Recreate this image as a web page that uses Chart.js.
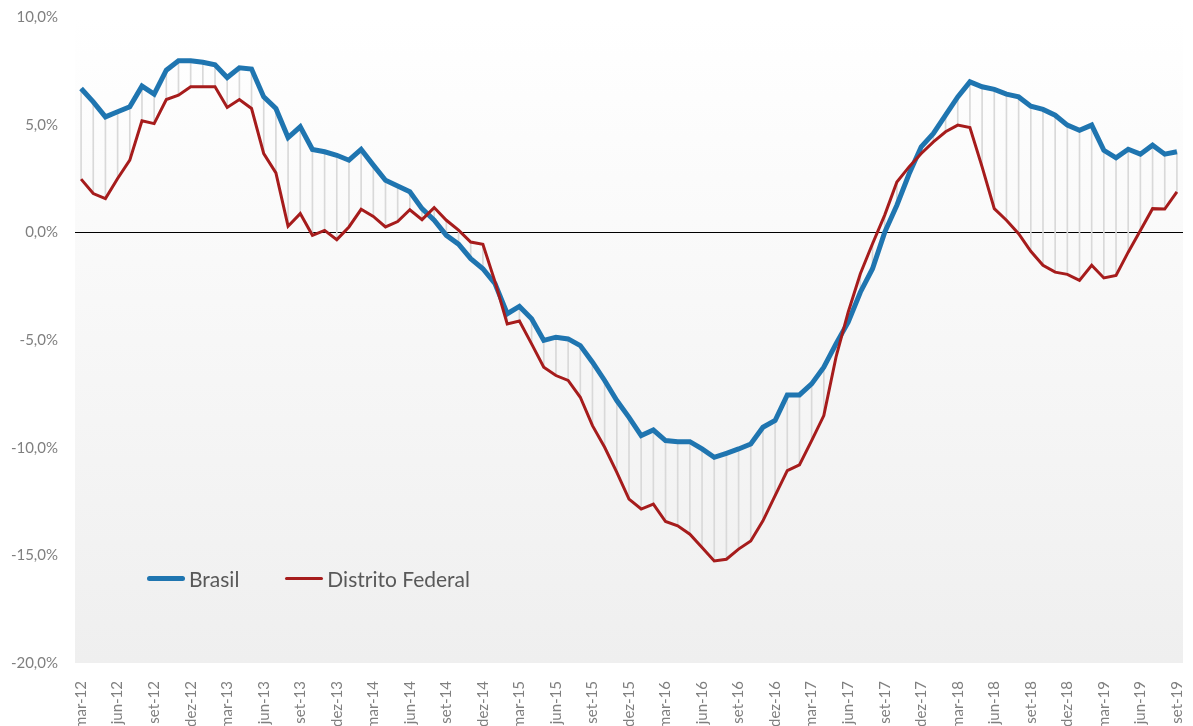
<!DOCTYPE html>
<html>
<head>
<meta charset="utf-8">
<script src="https://cdn.jsdelivr.net/npm/chart.js@4.4.0/dist/chart.umd.min.js"></script>
<style>
    body { margin: 0; background: #fff; }
    #wrap { position: relative; width: 1193px; height: 726px; }
    #legend {
        position: absolute; left: 147px; top: 566px;
        display: flex; font-family: Lato, sans-serif; font-size: 21px; color: #595959;
    }
    #legend .item { display: flex; align-items: center; margin-right: 46px; }
    #legend .swatch { width: 38px; border-radius: 3px; margin-right: 4px; }
</style>
</head>
<body>
<div id="wrap">
    <canvas id="chart" width="1193" height="726"></canvas>
    <div id="legend"></div>
</div>
<script>
const months = [
    'mar-12', 'abr-12', 'mai-12', 'jun-12', 'jul-12', 'ago-12', 'set-12', 'out-12', 'nov-12', 'dez-12',
    'jan-13', 'fev-13', 'mar-13', 'abr-13', 'mai-13', 'jun-13', 'jul-13', 'ago-13', 'set-13', 'out-13', 'nov-13', 'dez-13',
    'jan-14', 'fev-14', 'mar-14', 'abr-14', 'mai-14', 'jun-14', 'jul-14', 'ago-14', 'set-14', 'out-14', 'nov-14', 'dez-14',
    'jan-15', 'fev-15', 'mar-15', 'abr-15', 'mai-15', 'jun-15', 'jul-15', 'ago-15', 'set-15', 'out-15', 'nov-15', 'dez-15',
    'jan-16', 'fev-16', 'mar-16', 'abr-16', 'mai-16', 'jun-16', 'jul-16', 'ago-16', 'set-16', 'out-16', 'nov-16', 'dez-16',
    'jan-17', 'fev-17', 'mar-17', 'abr-17', 'mai-17', 'jun-17', 'jul-17', 'ago-17', 'set-17', 'out-17', 'nov-17', 'dez-17',
    'jan-18', 'fev-18', 'mar-18', 'abr-18', 'mai-18', 'jun-18', 'jul-18', 'ago-18', 'set-18', 'out-18', 'nov-18', 'dez-18',
    'jan-19', 'fev-19', 'mar-19', 'abr-19', 'mai-19', 'jun-19', 'jul-19', 'ago-19', 'set-19'
];

const brasil = [
    6.68, 6.06, 5.36, 5.6, 5.83, 6.79, 6.42, 7.53, 7.97, 7.97,
    7.9, 7.78, 7.19, 7.64, 7.58, 6.29, 5.75, 4.4, 4.9, 3.85, 3.74, 3.58,
    3.35, 3.85, 3.12, 2.42, 2.15, 1.88, 1.1, 0.56, -0.14, -0.55, -1.22, -1.69,
    -2.39, -3.78, -3.44, -4.01, -5.02, -4.87, -4.95, -5.26, -6.03, -6.88, -7.81, -8.59,
    -9.44, -9.18, -9.67, -9.72, -9.72, -10.06, -10.45, -10.26, -10.06, -9.83, -9.05, -8.74,
    -7.55, -7.55, -7.04, -6.26, -5.18, -4.17, -2.78, -1.69, 0.0, 1.26, 2.71, 3.97,
    4.59, 5.44, 6.29, 6.99, 6.76, 6.64, 6.42, 6.29, 5.86, 5.71, 5.44, 4.98,
    4.74, 4.98, 3.81, 3.46, 3.86, 3.63, 4.05, 3.63, 3.74
];

const distritoFederal = [
    2.47, 1.8, 1.57, 2.5, 3.35, 5.18, 5.05, 6.17, 6.37, 6.76,
    6.76, 6.76, 5.8, 6.17, 5.75, 3.66, 2.76, 0.28, 0.87, -0.14, 0.09, -0.34,
    0.25, 1.07, 0.74, 0.25, 0.5, 1.05, 0.59, 1.15, 0.56, 0.1, -0.45, -0.56,
    -2.3, -4.25, -4.12, -5.18, -6.26, -6.65, -6.88, -7.66, -8.98, -9.98, -11.15, -12.39,
    -12.85, -12.62, -13.43, -13.63, -14.02, -14.64, -15.26, -15.18, -14.71, -14.33, -13.4, -12.23,
    -11.07, -10.8, -9.67, -8.51, -5.8, -3.71, -1.92, -0.53, 0.8, 2.34, 3.04, 3.66,
    4.2, 4.67, 4.98, 4.87, 3.04, 1.1, 0.56, -0.06, -0.88, -1.53, -1.85, -1.95,
    -2.23, -1.53, -2.12, -2.0, -0.92, 0.09, 1.1, 1.08, 1.88
];

const yMin = -20;
const yMax = 10;
const yStep = 5;

// linhas verticais entre as duas séries
const dropLines = brasil.map((b, i) => [Math.min(b, distritoFederal[i]), Math.max(b, distritoFederal[i])]);

const plotBackground = {
    id: 'plotBackground',
    beforeDraw(chart) {
        const { ctx, chartArea: a } = chart;
        const grad = ctx.createLinearGradient(0, a.top, 0, a.bottom);
        grad.addColorStop(0, '#ffffff');
        grad.addColorStop(1, '#efefef');
        ctx.save();
        ctx.fillStyle = grad;
        ctx.fillRect(a.left, a.top, a.right - a.left, a.bottom - a.top);
        ctx.restore();
    }
};

const tickFont = { family: 'Lato', size: 15 };

const myChart = new Chart(document.getElementById('chart'), {
    type: 'bar',
    data: {
        labels: months,
        datasets: [
            {
                type: 'line',
                label: 'Distrito Federal',
                data: distritoFederal,
                borderColor: '#a61c1c',
                backgroundColor: '#a61c1c',
                borderWidth: 3,
                pointRadius: 0,
                tension: 0,
                order: 0
            },
            {
                type: 'line',
                label: 'Brasil',
                data: brasil,
                borderColor: '#1f75b0',
                backgroundColor: '#1f75b0',
                borderWidth: 5,
                pointRadius: 0,
                tension: 0,
                order: 1
            },
            {
                type: 'bar',
                label: 'diff',
                data: dropLines,
                backgroundColor: '#d9d9d9',
                barThickness: 1,
                order: 2
            }
        ]
    },
    plugins: [plotBackground],
    options: {
        responsive: false,
        animation: false,
        layout: { padding: { top: 17, right: 10, left: 0, bottom: 0 } },
        plugins: {
            legend: { display: false },
            tooltip: { enabled: false }
        },
        scales: {
            x: {
                offset: true,
                grid: { display: false },
                border: { display: false },
                ticks: {
                    autoSkip: false,
                    maxRotation: 90,
                    minRotation: 90,
                    padding: 10,
                    color: '#7f7f7f',
                    font: tickFont,
                    callback: (val, idx) => idx % 3 === 0 ? months[idx] : null
                },
                afterFit: (s) => {
                    s.height = 63;
                    s.paddingLeft = 0;
                    s.paddingRight = 0;
                }
            },
            y: {
                min: yMin,
                max: yMax,
                border: { display: false },
                grid: {
                    drawTicks: false,
                    color: (c) => c.tick.value === 0 ? '#000000' : 'rgba(0,0,0,0)',
                    lineWidth: 1
                },
                ticks: {
                    stepSize: yStep,
                    padding: 17,
                    color: '#7f7f7f',
                    font: tickFont,
                    callback: (v) => v.toFixed(1).replace('.', ',') + '%'
                },
                afterFit: (s) => {
                    s.width = 75;
                    s.paddingTop = 0;
                    s.paddingBottom = 0;
                }
            }
        }
    }
});

renderLegend();
function renderLegend() {
    let html = '';
    ['Brasil', 'Distrito Federal'].forEach(name => {
        const ds = myChart.data.datasets.find(d => d.label === name);
        html += `<div class="item"><span class="swatch" style="height:${ds.borderWidth}px;background:${ds.borderColor}"></span>${name}</div>`;
    });
    document.getElementById('legend').innerHTML = html;
}
</script>
</body>
</html>
